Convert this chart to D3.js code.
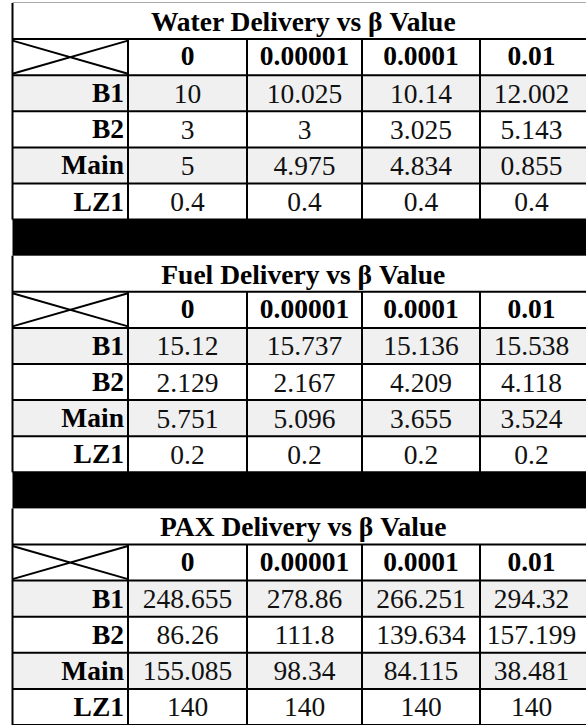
<!DOCTYPE html>
<html>
<head>
<meta charset="utf-8">
<script src="https://cdn.jsdelivr.net/npm/d3@7"></script>
<style>
  html, body { margin: 0; padding: 0; background: #fff; }
  svg { display: block; font-family: "Liberation Serif", "Times New Roman", serif; }
</style>
</head>
<body>
<div id="table_container"></div>
<script>
const titles = ["Water Delivery vs β Value", "Fuel Delivery vs β Value", "PAX Delivery vs β Value"];
const betaLabels = ["0", "0.00001", "0.0001", "0.01"];
const rowLabels = ["B1", "B2", "Main", "LZ1"];
const waterValues = [
  [10, 10.025, 10.14, 12.002],
  [3, 3, 3.025, 5.143],
  [5, 4.975, 4.834, 0.855],
  [0.4, 0.4, 0.4, 0.4]
];
const fuelValues = [
  [15.12, 15.737, 15.136, 15.538],
  [2.129, 2.167, 4.209, 4.118],
  [5.751, 5.096, 3.655, 3.524],
  [0.2, 0.2, 0.2, 0.2]
];
const paxValues = [
  [248.655, 278.86, 266.251, 294.32],
  [86.26, 111.8, 139.634, 157.199],
  [155.085, 98.34, 84.115, 38.481],
  [140, 140, 140, 140]
];
const sections = [waterValues, fuelValues, paxValues];

const width = 586;
const height = 725;
const GRAY = "#f0f0f0";
const FONT = 27.5;

// column edges (label column + 4 beta columns), last one runs off the page
const colEdges = [12.5, 128, 247, 362, 480, 583];
const left = colEdges[0];

// 7 rows per section (title, header, 4 data, black band), last band dropped
const nRows = sections.length * 7 - 1;
const y = d3.scaleBand().domain(d3.range(nRows)).range([3, height]);
const rh = y.bandwidth();

const svg = d3.select("#table_container")
  .append("svg")
  .attr("width", width)
  .attr("height", height)
  .attr("viewBox", `0 0 ${width} ${height}`);

// faint top line
svg.append("line")
  .attr("x1", left).attr("x2", width)
  .attr("y1", 2.5).attr("y2", 2.5)
  .attr("stroke", "#aaa").attr("stroke-width", 1);

sections.forEach(function (values, s) {
  const base = s * 7;
  const g = svg.append("g");

  // shaded rows (B1, Main)
  g.selectAll("rect.shade")
    .data(values)
    .join("rect")
    .attr("class", "shade")
    .attr("x", left)
    .attr("y", (d, i) => y(base + 2 + i))
    .attr("width", width - left)
    .attr("height", rh)
    .attr("fill", (d, i) => i % 2 === 0 ? GRAY : "#fff");

  // black separator
  if (s < sections.length - 1) {
    g.append("rect")
      .attr("x", left)
      .attr("y", y(base + 6))
      .attr("width", width - left)
      .attr("height", rh)
      .attr("fill", "#000");
  }

  // title
  g.append("text")
    .attr("x", (left + width) / 2 + 4)
    .attr("y", y(base) + rh / 2 + 10)
    .attr("text-anchor", "middle")
    .attr("font-size", FONT + "px")
    .attr("font-weight", "bold")
    .attr("fill", "#000")
    .text(titles[s]);

  // header row
  g.selectAll("text.head")
    .data(betaLabels)
    .join("text")
    .attr("class", "head")
    .attr("x", (d, i) => (colEdges[i + 1] + colEdges[i + 2]) / 2)
    .attr("y", y(base + 1) + rh / 2 + 8)
    .attr("text-anchor", "middle")
    .attr("font-size", FONT + "px")
    .attr("font-weight", "bold")
    .attr("fill", "#000")
    .text(d => d);

  // diagonal cross in corner cell
  const cy0 = y(base + 1) + 1.5;
  const cy1 = y(base + 1) + rh - 1.5;
  g.append("path")
    .attr("d", `M${left},${cy0}L${colEdges[1]},${cy1}M${left},${cy1}L${colEdges[1]},${cy0}`)
    .attr("stroke", "#000")
    .attr("stroke-width", 2)
    .attr("fill", "none");

  // row labels
  g.selectAll("text.label")
    .data(rowLabels)
    .join("text")
    .attr("class", "label")
    .attr("x", colEdges[1] - 4)
    .attr("y", (d, i) => y(base + 2 + i) + rh / 2 + 9)
    .attr("text-anchor", "end")
    .attr("font-size", FONT + "px")
    .attr("font-weight", "bold")
    .attr("fill", "#000")
    .text(d => d);

  // values
  values.forEach(function (row, r) {
    g.selectAll("text.val" + r)
      .data(row)
      .join("text")
      .attr("class", "val" + r)
      .attr("x", (d, i) => (colEdges[i + 1] + colEdges[i + 2]) / 2)
      .attr("y", y(base + 2 + r) + rh / 2 + 9.5)
      .attr("text-anchor", "middle")
      .attr("font-size", FONT + "px")
      .attr("fill", "#111")
      .text(d => String(d));
  });

  // grid lines
  const top = y(base);
  const gridTop = y(base + 1);
  const bottom = y(base + 5) + rh;
  const hLines = d3.range(1, 6).map(k => y(base + k)).concat([bottom]);
  g.selectAll("line.h")
    .data(hLines)
    .join("line")
    .attr("class", "h")
    .attr("x1", left).attr("x2", width)
    .attr("y1", d => d).attr("y2", d => d)
    .attr("stroke", "#000").attr("stroke-width", 2);

  // left border including title row
  g.append("line")
    .attr("x1", left).attr("x2", left)
    .attr("y1", top).attr("y2", bottom)
    .attr("stroke", "#000").attr("stroke-width", 2);

  // inner vertical borders
  g.selectAll("line.v")
    .data(colEdges.slice(1, 5))
    .join("line")
    .attr("class", "v")
    .attr("x1", d => d).attr("x2", d => d)
    .attr("y1", gridTop).attr("y2", bottom)
    .attr("stroke", "#000").attr("stroke-width", 2);
});
</script>
</body>
</html>
